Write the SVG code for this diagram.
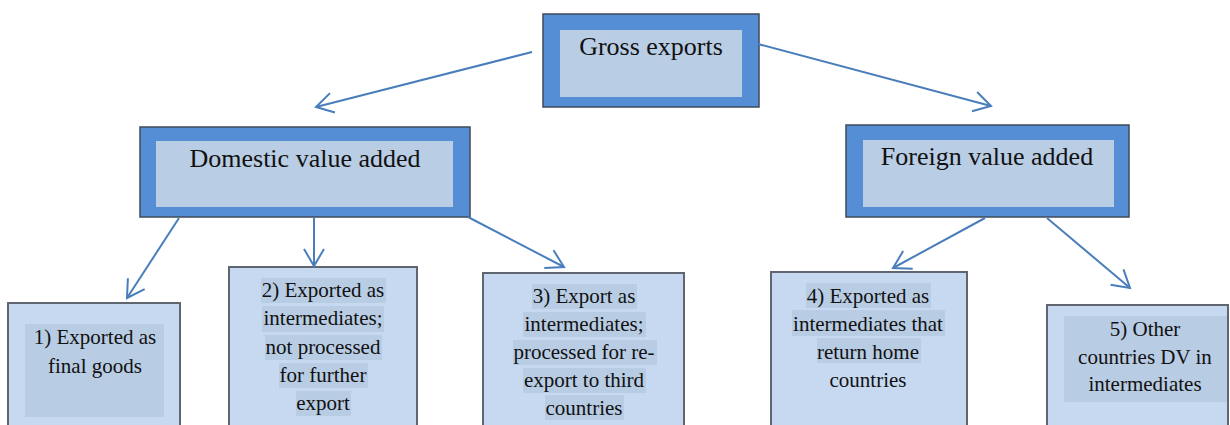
<svg xmlns="http://www.w3.org/2000/svg" width="1230" height="425" viewBox="0 0 1230 425">
<style>
.outer{fill:#558ED5;stroke:#3f4a5a;stroke-width:1.5}
.inner{fill:#B9CDE5}
.box{fill:#C6D9F1;stroke:#5f6670;stroke-width:2}
.hl{fill:#B8CCE4}
text{font-family:'Liberation Serif','Times New Roman','DejaVu Serif',serif;fill:#111;text-anchor:middle}
.big{font-size:26px}
.sm{font-size:21px}
.con{stroke:#4A7EBB;stroke-width:2;fill:none;marker-end:url(#ah)}
</style>
<defs>
<marker id="ah" markerUnits="userSpaceOnUse" markerWidth="24" markerHeight="24" viewBox="-20 -12 22 24" refX="0" refY="0" orient="auto">
<path d="M-17,-10 L0,0 L-17,10" fill="none" stroke="#4A7EBB" stroke-width="2"/>
</marker>
</defs>
<rect width="1230" height="425" fill="#fff"/>
<g id="gross">
<rect class="outer" x="543" y="14" width="216" height="93"/>
<rect class="inner" x="560" y="30" width="182" height="67"/>
<text class="big" x="651" y="55">Gross exports</text>
</g>
<g id="domestic">
<rect class="outer" x="140" y="127" width="330" height="90"/>
<rect class="inner" x="156" y="141" width="297" height="66"/>
<text class="big" x="305" y="167">Domestic value added</text>
</g>
<g id="foreign">
<rect class="outer" x="846" y="125" width="283" height="92"/>
<rect class="inner" x="863" y="140" width="251" height="67"/>
<text class="big" x="987" y="165">Foreign value added</text>
</g>
<g id="box1">
<rect class="box" x="8" y="303" width="172" height="140"/>
<rect class="hl" x="25" y="324" width="139" height="93"/>
<text class="sm" x="95" y="344">1) Exported as</text>
<text class="sm" x="95" y="373">final goods</text>
</g>
<g id="box2">
<rect class="box" x="229" y="267" width="188" height="180"/>
<rect class="hl" x="261" y="278" width="125" height="25"/>
<rect class="hl" x="262" y="306" width="122" height="26"/>
<rect class="hl" x="265" y="335" width="117" height="25"/>
<rect class="hl" x="279" y="363" width="89" height="25"/>
<rect class="hl" x="296" y="391" width="55" height="25"/>
<text class="sm" x="323" y="297">2) Exported as</text>
<text class="sm" x="323" y="325">intermediates;</text>
<text class="sm" x="323" y="354">not processed</text>
<text class="sm" x="323" y="382">for further</text>
<text class="sm" x="323" y="410">export</text>
</g>
<g id="box3">
<rect class="box" x="483" y="273" width="201" height="180"/>
<rect class="hl" x="532" y="284" width="105" height="25"/>
<rect class="hl" x="523" y="312" width="123" height="25"/>
<rect class="hl" x="513" y="340" width="144" height="25"/>
<rect class="hl" x="523" y="368" width="123" height="25"/>
<rect class="hl" x="545" y="395" width="79" height="25"/>
<text class="sm" x="584" y="303">3) Export as</text>
<text class="sm" x="584" y="331">intermediates;</text>
<text class="sm" x="584" y="359">processed for re-</text>
<text class="sm" x="584" y="387">export to third</text>
<text class="sm" x="584" y="415">countries</text>
</g>
<g id="box4">
<rect class="box" x="771" y="272" width="196" height="180"/>
<rect class="hl" x="806" y="283" width="125" height="25"/>
<rect class="hl" x="792" y="310" width="153" height="26"/>
<rect class="hl" x="817" y="338" width="104" height="25"/>
<text class="sm" x="868" y="303">4) Exported as</text>
<text class="sm" x="868" y="331">intermediates that</text>
<text class="sm" x="868" y="359">return home</text>
<text class="sm" x="868" y="387">countries</text>
</g>
<g id="box5">
<rect class="box" x="1047" y="305" width="181" height="140"/>
<rect class="hl" x="1064" y="316" width="163" height="86"/>
<text class="sm" x="1145" y="336">5) Other</text>
<text class="sm" x="1145" y="364">countries DV in</text>
<text class="sm" x="1145" y="391">intermediates</text>
</g>
<g id="connectors">
<line class="con" x1="532" y1="52" x2="316" y2="107"/>
<line class="con" x1="758" y1="44" x2="991" y2="106"/>
<line class="con" x1="179" y1="218" x2="127" y2="298"/>
<line class="con" x1="314" y1="218" x2="314" y2="266"/>
<line class="con" x1="468" y1="217" x2="564" y2="267"/>
<line class="con" x1="985" y1="218" x2="893" y2="268"/>
<line class="con" x1="1047" y1="218" x2="1130" y2="288"/>
</g>
</svg>
